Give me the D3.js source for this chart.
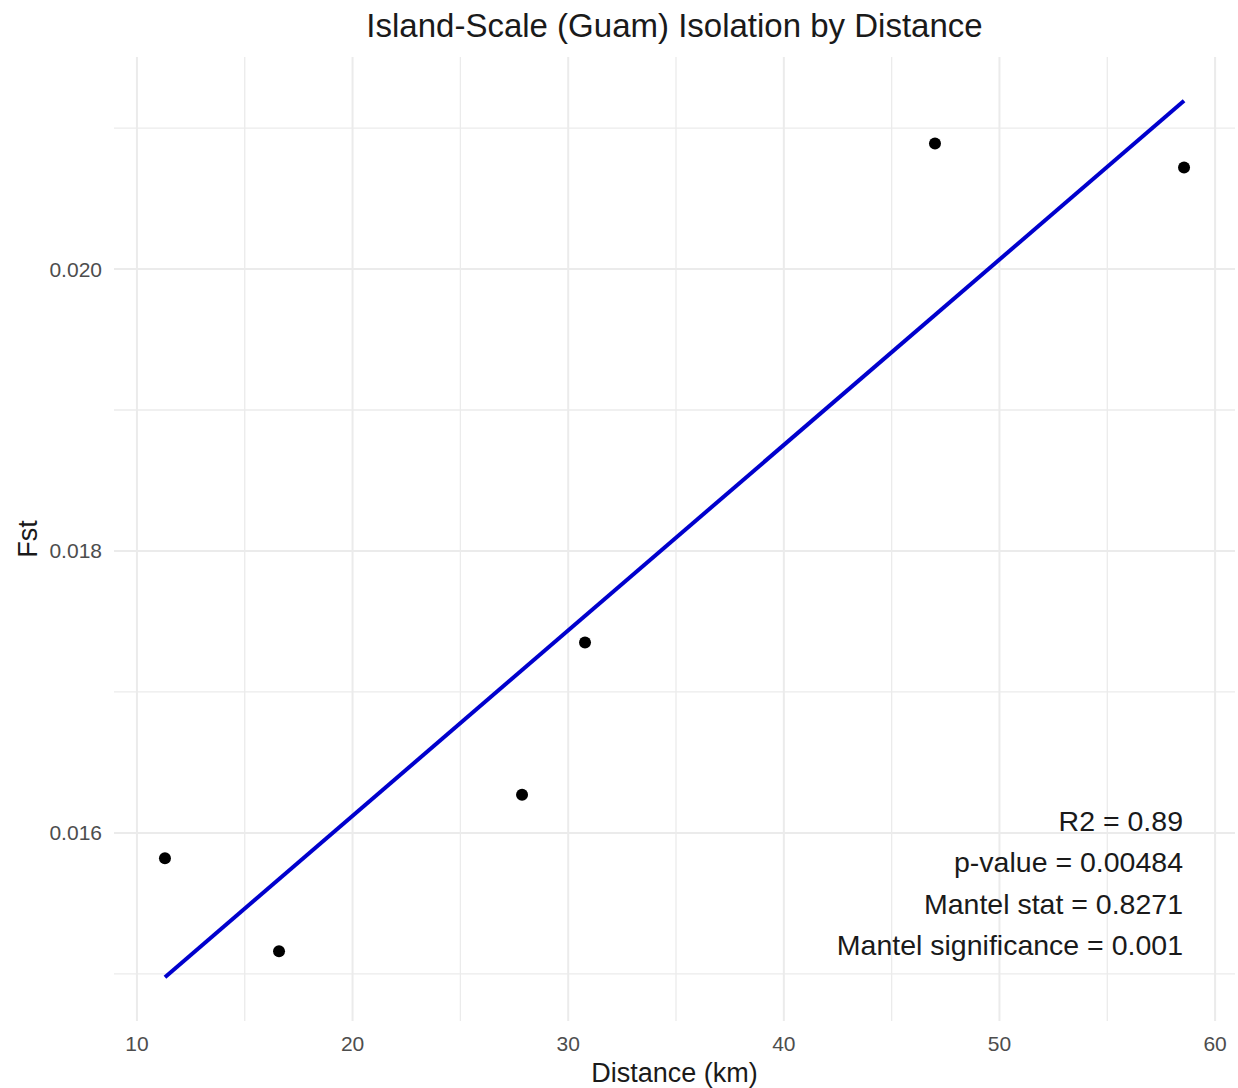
<!DOCTYPE html>
<html>
<head>
    <meta charset="utf-8" />
    <title>Island-Scale (Guam) Isolation by Distance</title>
    <script src="https://d3js.org/d3.v7.min.js"></script>
    <style>
        body { margin: 0; background: #fff; font-family: "Liberation Sans", Arial, sans-serif; }
        .grid line { stroke: #ebebeb; }
        text { fill: #1a1a1a; }
        .tick-label { fill: #4d4d4d; font-size: 21px; }
    </style>
</head>
<body>
    <div id="chart"></div>
    <script>
        // data
        const distance = [11.30, 16.59, 27.86, 30.78, 47.01, 58.56];
        const fst = [0.01582, 0.01516, 0.01627, 0.01735, 0.02089, 0.02072];
        const xMajor = [10, 20, 30, 40, 50, 60];
        const xMinor = [15, 25, 35, 45, 55];
        const yMajor = [0.016, 0.018, 0.020];
        const yMinor = [0.015, 0.017, 0.019, 0.021];
        const statLines = ["R2 = 0.89", "p-value = 0.00484", "Mantel stat = 0.8271", "Mantel significance = 0.001"];

        const width = 1238, height = 1088;
        const panel = { left: 114, right: 1235, top: 57, bottom: 1021 };

        // least squares fit, like geom_smooth(method = "lm")
        const mx = d3.mean(distance), my = d3.mean(fst);
        const sxy = d3.sum(distance, (d, i) => (d - mx) * (fst[i] - my));
        const sxx = d3.sum(distance, d => (d - mx) * (d - mx));
        const slope = sxy / sxx, intercept = my - slope * mx;
        const xExt = d3.extent(distance);
        const fitLine = xExt.map(x => [x, intercept + slope * x]);

        // ggplot style 5% expansion
        const yVals = fst.concat(fitLine.map(d => d[1]));
        const yExt = d3.extent(yVals);
        const xPad = (xExt[1] - xExt[0]) * 0.05, yPad = (yExt[1] - yExt[0]) * 0.05;

        const x = d3.scaleLinear().domain([xExt[0] - xPad, xExt[1] + xPad]).range([panel.left, panel.right]);
        const y = d3.scaleLinear().domain([yExt[0] - yPad, yExt[1] + yPad]).range([panel.bottom, panel.top]);

        const svg = d3.select("#chart").append("svg")
            .attr("width", width)
            .attr("height", height);

        const grid = svg.append("g").attr("class", "grid");
        grid.selectAll(".xminor").data(xMinor).enter().append("line")
            .attr("x1", d => x(d)).attr("x2", d => x(d))
            .attr("y1", panel.top).attr("y2", panel.bottom)
            .attr("stroke-width", 1.3);
        grid.selectAll(".yminor").data(yMinor).enter().append("line")
            .attr("x1", panel.left).attr("x2", panel.right)
            .attr("y1", d => y(d)).attr("y2", d => y(d))
            .attr("stroke-width", 1.3);
        grid.selectAll(".xmajor").data(xMajor).enter().append("line")
            .attr("x1", d => x(d)).attr("x2", d => x(d))
            .attr("y1", panel.top).attr("y2", panel.bottom)
            .attr("stroke-width", 2);
        grid.selectAll(".ymajor").data(yMajor).enter().append("line")
            .attr("x1", panel.left).attr("x2", panel.right)
            .attr("y1", d => y(d)).attr("y2", d => y(d))
            .attr("stroke-width", 2);

        // tick labels
        svg.append("g").selectAll("text").data(xMajor).enter().append("text")
            .attr("class", "tick-label")
            .attr("x", d => x(d))
            .attr("y", panel.bottom + 30)
            .attr("text-anchor", "middle")
            .text(d => d);
        svg.append("g").selectAll("text").data(yMajor).enter().append("text")
            .attr("class", "tick-label")
            .attr("x", panel.left - 12)
            .attr("y", d => y(d) + 7.5)
            .attr("text-anchor", "end")
            .text(d3.format(".3f"));

        // regression line
        svg.append("path")
            .datum(fitLine)
            .attr("fill", "none")
            .attr("stroke", "#0000CD")
            .attr("stroke-width", 4)
            .attr("d", d3.line().x(d => x(d[0])).y(d => y(d[1])));

        // points
        svg.append("g").selectAll("circle").data(distance).enter().append("circle")
            .attr("cx", d => x(d))
            .attr("cy", (d, i) => y(fst[i]))
            .attr("r", 6)
            .attr("fill", "#000");

        // stats annotation
        svg.append("g").selectAll("text").data(statLines).enter().append("text")
            .attr("x", 1183)
            .attr("y", (d, i) => 831 + i * 41.3)
            .attr("text-anchor", "end")
            .attr("font-size", "28.5px")
            .text(d => d);

        // titles
        svg.append("text")
            .attr("x", (panel.left + panel.right) / 2)
            .attr("y", 37)
            .attr("text-anchor", "middle")
            .attr("font-size", "33px")
            .text("Island-Scale (Guam) Isolation by Distance");
        svg.append("text")
            .attr("x", (panel.left + panel.right) / 2)
            .attr("y", 1082)
            .attr("text-anchor", "middle")
            .attr("font-size", "27px")
            .text("Distance (km)");
        svg.append("text")
            .attr("transform", `translate(37, ${(panel.top + panel.bottom) / 2}) rotate(-90)`)
            .attr("text-anchor", "middle")
            .attr("font-size", "27px")
            .text("Fst");
    </script>
</body>
</html>
